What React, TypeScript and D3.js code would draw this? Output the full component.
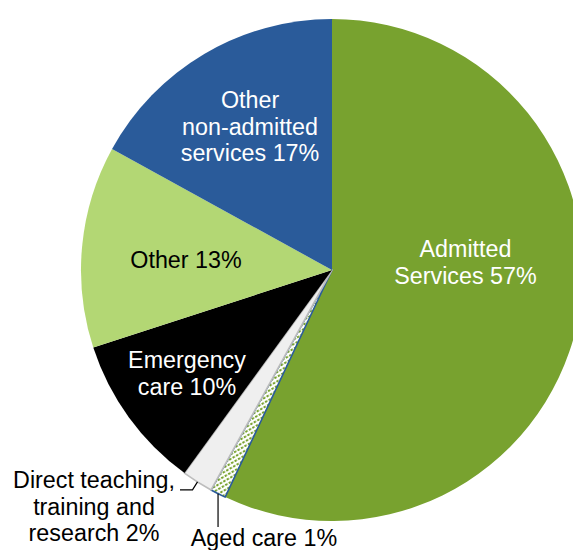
import React from "react";
import * as d3 from "d3";

const categories = [
  "Admitted Services",
  "Aged care",
  "Direct teaching, training and research",
  "Emergency care",
  "Other",
  "Other non-admitted services",
];
const values = [57, 1, 2, 10, 13, 17];
const fills = ["#78A22F", "url(#agedPattern)", "#EFEFEF", "#000000", "#B3D774", "#2A5B9A"];
const strokes = ["none", "#2A5B9A", "#BDBDBD", "none", "none", "none"];
const labelLines = [
  ["Admitted", "Services 57%"],
  ["Aged care 1%"],
  ["Direct teaching,", "training and", "research 2%"],
  ["Emergency", "care 10%"],
  ["Other 13%"],
  ["Other", "non-admitted", "services 17%"],
];
const labelColors = ["#fff", "#000", "#000", "#fff", "#000", "#fff"];

export default function App() {
  const W = 573, H = 550;
  const cx = 332, cy = 270, r = 251;
  const pie = d3.pie<number>().sort(null).value((d) => d).startAngle(0).endAngle(2 * Math.PI);
  const arcs = pie(values);
  const arc = d3.arc<d3.PieArcDatum<number>>().innerRadius(0).outerRadius(r);
  const fs = 23.3;
  const lh = 26.5;
  const labelPos: [number, number][] = [
    [133.5, -13],
    [-68, 276],
    [-238, 218],
    [-145, 98],
    [-146, -2],
    [-82, -162],
  ];
  const polar = (a: number, rad: number) => [Math.sin(a) * rad, -Math.cos(a) * rad];
  const aged = arcs[1];
  const teach = arcs[2];
  const agedMid = (aged.startAngle + aged.endAngle) / 2;
  const teachMid = (teach.startAngle + teach.endAngle) / 2;
  const [ax, ay] = polar(agedMid, r);
  const [tx, ty] = polar(teachMid, r);
  return (
    <svg width={W} height={H} style={{ position: "absolute", left: 0, top: 0 }} fontFamily="'Liberation Sans', Arial, sans-serif">
      <defs>
        <pattern id="agedPattern" width="4" height="4" patternUnits="userSpaceOnUse" patternTransform="rotate(-30)">
          <rect width="4" height="4" fill="#ffffff" />
          <rect x="0" y="0" width="2.5" height="2" fill="#78A22F" />
        </pattern>
      </defs>
      <g transform={`translate(${cx},${cy})`}>
        {arcs.map((a, i) => (
          <path
            key={categories[i]}
            d={arc(a) || ""}
            fill={fills[i]}
            stroke={strokes[i]}
            strokeWidth={strokes[i] === "none" ? 0 : 1.6}
            strokeLinejoin="round"
          />
        ))}
        <polyline
          points={`${tx},${ty} ${tx - 5},${ty + 8} ${-152},${ty + 8}`}
          fill="none"
          stroke="#000"
          strokeWidth={1.2}
        />
        <line x1={ax} y1={ay} x2={ax} y2={257} stroke="#000" strokeWidth={1.2} />
        {labelLines.map((lines, i) => (
          <text
            key={i}
            x={labelPos[i][0]}
            y={labelPos[i][1]}
            fill={labelColors[i]}
            fontSize={fs}
            textAnchor="middle"
          >
            {lines.map((l, j) => (
              <tspan key={j} x={labelPos[i][0]} y={labelPos[i][1] + j * lh}>
                {l}
              </tspan>
            ))}
          </text>
        ))}
      </g>
    </svg>
  );
}
